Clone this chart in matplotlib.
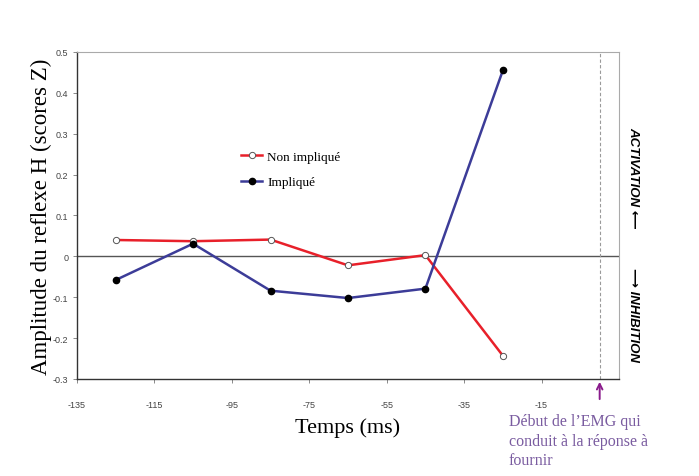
import matplotlib.pyplot as plt

# temps relatif au debut de l'EMG (ms)
temps = [-125, -105, -85, -65, -45, -25]
non_implique = [0.040, 0.037, 0.041, -0.022, 0.003, -0.243]
implique = [-0.058, 0.031, -0.084, -0.102, -0.079, 0.455]

xticks = [-135, -115, -95, -75, -55, -35, -15]
yticks = [0.5, 0.4, 0.3, 0.2, 0.1, 0, -0.1, -0.2, -0.3]
ytick_labels = ['0.5', '0.4', '0.3', '0.2', '0.1', '0', '-0.1', '-0.2', '-0.3']

rouge = '#e8202a'
bleu = '#3c3c98'
violet = '#8a1c8c'
serif = 'Liberation Serif'
sans = 'Liberation Sans'

fig = plt.figure(figsize=(6.99, 4.77), dpi=100)
ax = fig.add_axes([0.110, 0.2034, 0.7756, 0.6856])

ax.axhline(0, color='#555555', lw=1.0, zorder=1)
ax.axvline(0, color='#9a9a9a', lw=0.8, ls=(0, (3, 2)), zorder=1)

ax.plot(temps, non_implique, '-o', color=rouge, lw=1.8, ms=4.5,
        mfc='white', mec='#555555', mew=0.7, label='Non impliqué', zorder=3)
ax.plot(temps, implique, '-o', color=bleu, lw=1.8, ms=4.5,
        mfc='black', mec='black', label='Impliqué', zorder=3)

ax.set_xlim(-135, 5)
ax.set_ylim(-0.3, 0.5)
ax.set_xticks(xticks)
ax.set_xticklabels([str(t) for t in xticks], fontsize=6.5, color='#444444', family=sans)
ax.set_yticks(yticks)
ax.set_yticklabels(ytick_labels, fontsize=6.5, color='#444444', family=sans)
ax.tick_params(length=3, width=0.6, color='#777777', pad=12)
ax.tick_params(axis='y', pad=3)

for s in ['left', 'bottom']:
    ax.spines[s].set_color('#333333')
    ax.spines[s].set_linewidth(1.0)
for s in ['top', 'right']:
    ax.spines[s].set_color('#aaaaaa')
    ax.spines[s].set_linewidth(0.8)

ax.set_xlabel('Temps (ms)', fontsize=16, family=serif, labelpad=6)
ax.set_ylabel('Amplitude du reflexe H (scores Z)', fontsize=16.5, family=serif, labelpad=1)

leg = ax.legend(loc='upper left', bbox_to_anchor=(0.281, 0.735), frameon=False,
                prop={'family': serif, 'size': 9.5}, handlelength=1.6,
                labelspacing=1.0, handletextpad=0.4)

fig.text(0.906, 0.627, 'ACTIVATION \u27f5', rotation=-90, fontsize=9.5,
         fontweight='bold', fontstyle='italic', family=[sans, 'DejaVu Sans'],
         ha='center', va='center')
fig.text(0.906, 0.34, '\u27f6 INHIBITION', rotation=-90, fontsize=9.5,
         fontweight='bold', fontstyle='italic', family=[sans, 'DejaVu Sans'],
         ha='center', va='center')

# fleche du debut de l'EMG
ax.annotate('', xy=(0, -0.3), xytext=(0, -0.356), annotation_clip=False,
            arrowprops=dict(arrowstyle='->', color=violet, lw=1.4))
fig.text(0.728, 0.132, "Début de l\u2019EMG qui\nconduit à la réponse à\nfournir",
         fontsize=11.5, family=serif, color='#7a5ca0', ha='left', va='top',
         linespacing=1.3)

fig.savefig('out.png', dpi=100)
